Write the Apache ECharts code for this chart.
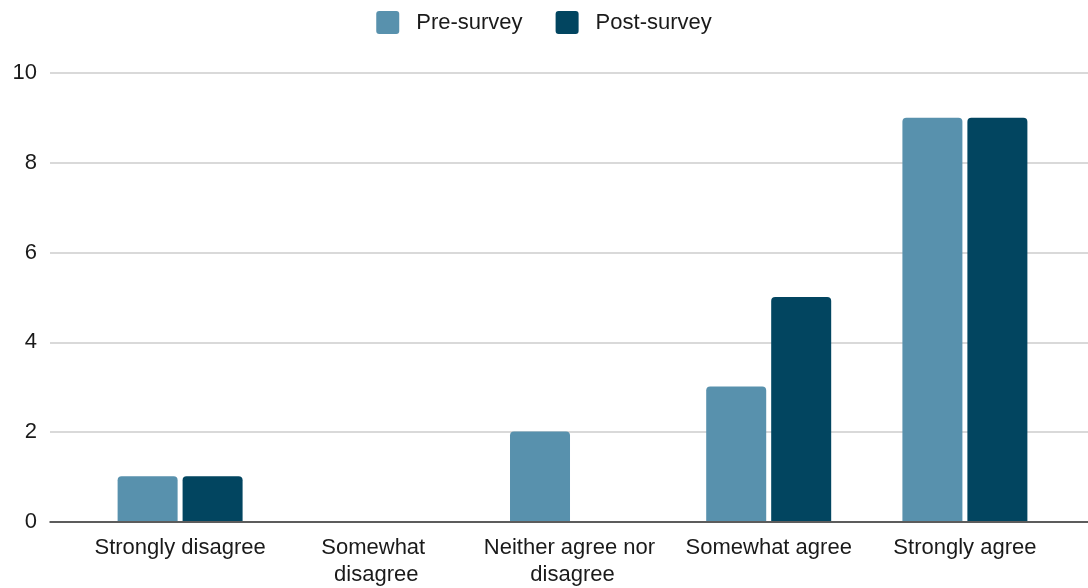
<!DOCTYPE html>
<html>
<head>
<meta charset="utf-8">
<script src="https://cdn.jsdelivr.net/npm/echarts@6/dist/echarts.min.js"></script>
<style>
  html, body { margin: 0; padding: 0; background: #ffffff; }
  #chart { width: 1088px; height: 588px; }
</style>
</head>
<body>
<div id="chart"></div>
<script>
// Survey responses, before and after
const categories = ['Strongly disagree', 'Somewhat disagree', 'Neither agree nor disagree', 'Somewhat agree', 'Strongly agree'];
const preSurvey = [1, 0, 2, 3, 9];
const postSurvey = [1, 0, 0, 5, 9];
const yTicks = { min: 0, max: 10, interval: 2 };

const FONT = '"Liberation Sans", Arial, sans-serif';
const TEXT_COLOR = '#1a1a1a';
const PRE_COLOR = '#5891ad';
const POST_COLOR = '#024560';

const chart = echarts.init(document.getElementById('chart'));

chart.setOption({
  backgroundColor: '#ffffff',
  animation: false,
  legend: {
    top: 6,
    left: 'center',
    itemWidth: 23,
    itemHeight: 23,
    itemGap: 33,
    icon: 'path://M3,0 H20 A3,3 0 0 1 23,3 V20 A3,3 0 0 1 20,23 H3 A3,3 0 0 1 0,20 V3 A3,3 0 0 1 3,0 Z',
    textStyle: { fontFamily: FONT, fontSize: 22, color: TEXT_COLOR, padding: [0, 0, 0, 12] },
    data: ['Pre-survey', 'Post-survey']
  },
  grid: [
    // background grid: gridlines, value labels and baseline across the full width
    { left: 50, right: 0, top: 73, bottom: 66 },
    // bar grid
    { left: 82, right: 25, top: 73, bottom: 66 }
  ],
  xAxis: [
    {
      gridIndex: 0,
      type: 'category',
      data: categories,
      axisLine: { show: true, lineStyle: { color: '#333', width: 1.5 } },
      axisTick: { show: false },
      axisLabel: { show: false },
      z: 5
    },
    {
      gridIndex: 1,
      type: 'category',
      data: categories,
      axisLine: { show: false },
      axisTick: { show: false },
      axisLabel: {
        margin: 13,
        fontFamily: FONT,
        fontSize: 22,
        lineHeight: 27,
        color: TEXT_COLOR,
        interval: 0,
        width: 186,
        overflow: 'break'
      }
    }
  ],
  yAxis: [
    {
      gridIndex: 0,
      type: 'value',
      min: yTicks.min,
      max: yTicks.max,
      interval: yTicks.interval,
      axisLine: { show: false },
      axisTick: { show: false },
      axisLabel: { margin: 13, fontFamily: FONT, fontSize: 22, color: TEXT_COLOR },
      splitLine: { lineStyle: { color: '#cccccc', width: 1.5 } }
    },
    {
      gridIndex: 1,
      type: 'value',
      min: yTicks.min,
      max: yTicks.max,
      interval: yTicks.interval,
      show: false,
      splitLine: { show: false }
    }
  ],
  series: [
    {
      name: 'Pre-survey',
      type: 'bar',
      xAxisIndex: 1,
      yAxisIndex: 1,
      data: preSurvey,
      barWidth: 60,
      barGap: '8.3%',
      itemStyle: { color: PRE_COLOR, borderRadius: [4, 4, 0, 0] }
    },
    {
      name: 'Post-survey',
      type: 'bar',
      xAxisIndex: 1,
      yAxisIndex: 1,
      data: postSurvey,
      barWidth: 60,
      barGap: '8.3%',
      itemStyle: { color: POST_COLOR, borderRadius: [4, 4, 0, 0] }
    }
  ]
});
</script>
</body>
</html>
